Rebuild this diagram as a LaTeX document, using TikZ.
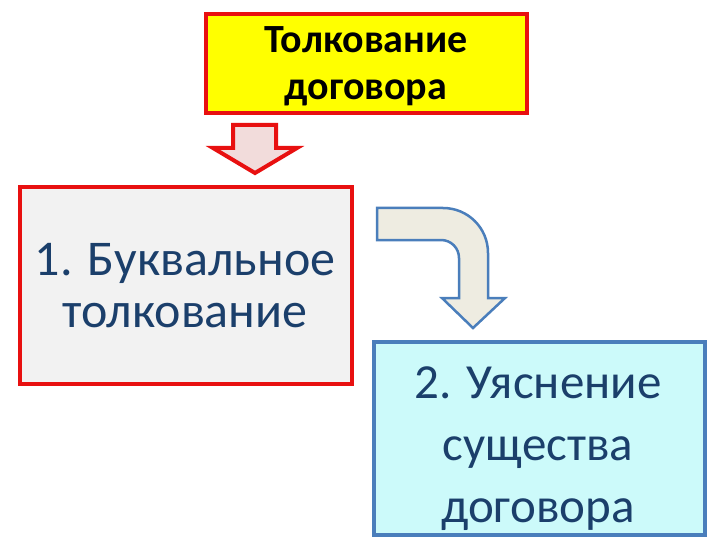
\documentclass[tikz,border=0pt]{standalone}
\usepackage{fontspec}
\setmainfont{Carlito}
\definecolor{boxred}{HTML}{E81010}
\definecolor{topyellow}{HTML}{FFFF00}
\definecolor{lightgrey}{HTML}{F2F2F2}
\definecolor{pinkfill}{HTML}{F2DCDB}
\definecolor{cyanfill}{HTML}{CCFAFA}
\definecolor{steelblue}{HTML}{4A7EBB}
\definecolor{textblue}{HTML}{1B3F6B}
\definecolor{curvefill}{HTML}{EEECE1}
\tikzset{
  blockbox/.style={draw, line width=4pt, inner sep=0pt},
  redbox/.style={blockbox, draw=boxred},
  bluebox/.style={blockbox, draw=steelblue},
  topline/.style={anchor=base, inner sep=0pt, font=\bfseries\fontsize{40}{47}\selectfont},
  litline/.style={anchor=base, inner sep=0pt, text=textblue, font=\fontsize{50}{52}\selectfont},
  essline/.style={anchor=base, inner sep=0pt, text=textblue, font=\fontsize{49}{61}\selectfont}
}
\begin{document}
\begin{tikzpicture}[x=1pt,y=-1pt]
\useasboundingbox (0,0) rectangle (720,540);
\node[redbox, fill=topyellow, minimum width=321pt, minimum height=99pt] (top) at (366.5,63.5) {};
\node[redbox, fill=lightgrey, minimum width=332pt, minimum height=197pt] (lit) at (186,285.5) {};
\node[bluebox, fill=cyanfill, minimum width=331pt, minimum height=193pt] (ess) at (539.5,438.5) {};
\node[topline] (t1) at (366,53) {Толкование};
\node[topline] (t2) at (366,100) {договора};
\node[litline] (l1) at (185,275) {1. Буквальное};
\node[litline] (l2) at (185,327) {толкование};
\node[essline] (e1) at (538,398) {2. Уяснение};
\node[essline] (e2) at (538,460) {существа};
\node[essline] (e3) at (538,522) {договора};
% down block arrow
\draw[boxred, fill=pinkfill, line width=4pt, line join=miter]
  (233,125) -- (276,125) -- (276,148) -- (297,148) -- (255,173)
  -- (213,148) -- (233,148) -- cycle;
% curved block arrow
\draw[steelblue, fill=curvefill, line width=2.5pt, line join=miter]
  (377,208) -- (443,208) .. controls (468,208) and (488,228) .. (488,253)
  -- (488,298) -- (505,298) -- (473,328) -- (442,298) -- (459,298)
  -- (459,258) .. controls (459,248) and (451,240) .. (441,240)
  -- (377,240) -- cycle;
\end{tikzpicture}
\end{document}
